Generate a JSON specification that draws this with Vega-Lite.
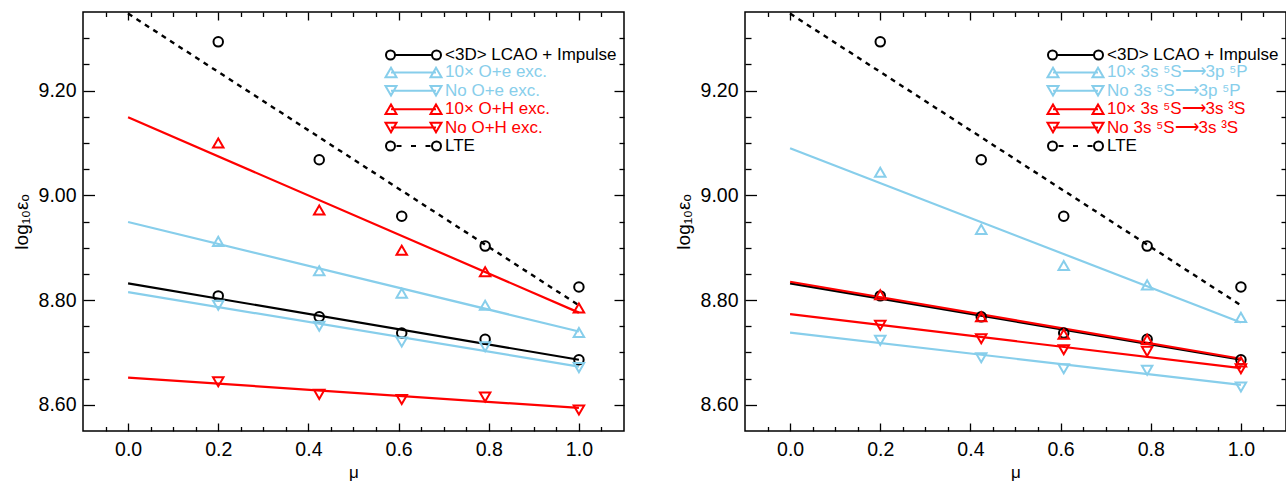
{
  "$schema": "https://vega.github.io/schema/vega-lite/v6.json",
  "padding": {"left": 11, "top": 10, "right": 0, "bottom": 0},
  "background": "white",
  "config": {
    "font": "Liberation Sans",
    "view": {"stroke": "black", "strokeWidth": 1.5},
    "axis": {"grid": false, "domain": false, "labelColor": "black", "titleColor": "black", "titleFontWeight": "normal", "tickColor": "black", "tickWidth": 1.3, "labelFont": "Liberation Sans", "titleFont": "Liberation Sans"},
    "legend": {"labelFont": "Liberation Sans"}
  },
  "datasets": {
    "fitsL": [
      {"series": "<3D> LCAO + Impulse", "mu": 0, "v": 8.832}, {"series": "<3D> LCAO + Impulse", "mu": 1, "v": 8.686},
      {"series": "10× O+e exc.", "mu": 0, "v": 8.949}, {"series": "10× O+e exc.", "mu": 1, "v": 8.740},
      {"series": "No O+e exc.", "mu": 0, "v": 8.815}, {"series": "No O+e exc.", "mu": 1, "v": 8.673},
      {"series": "10× O+H exc.", "mu": 0, "v": 9.149}, {"series": "10× O+H exc.", "mu": 1, "v": 8.776},
      {"series": "No O+H exc.", "mu": 0, "v": 8.652}, {"series": "No O+H exc.", "mu": 1, "v": 8.594},
      {"series": "LTE", "mu": 0, "v": 9.347}, {"series": "LTE", "mu": 1, "v": 8.790}
    ],
    "pointsL": [
      {"series": "LTE", "mu": 0.2, "v": 9.293}, {"series": "LTE", "mu": 0.424, "v": 9.068}, {"series": "LTE", "mu": 0.607, "v": 8.960}, {"series": "LTE", "mu": 0.792, "v": 8.903}, {"series": "LTE", "mu": 1.0, "v": 8.825},
      {"series": "<3D> LCAO + Impulse", "mu": 0.2, "v": 8.808}, {"series": "<3D> LCAO + Impulse", "mu": 0.424, "v": 8.768}, {"series": "<3D> LCAO + Impulse", "mu": 0.607, "v": 8.737}, {"series": "<3D> LCAO + Impulse", "mu": 0.792, "v": 8.725}, {"series": "<3D> LCAO + Impulse", "mu": 1.0, "v": 8.686},
      {"series": "10× O+e exc.", "mu": 0.2, "v": 8.912}, {"series": "10× O+e exc.", "mu": 0.424, "v": 8.856}, {"series": "10× O+e exc.", "mu": 0.607, "v": 8.813}, {"series": "10× O+e exc.", "mu": 0.792, "v": 8.790}, {"series": "10× O+e exc.", "mu": 1.0, "v": 8.738},
      {"series": "No O+e exc.", "mu": 0.2, "v": 8.790}, {"series": "No O+e exc.", "mu": 0.424, "v": 8.750}, {"series": "No O+e exc.", "mu": 0.607, "v": 8.720}, {"series": "No O+e exc.", "mu": 0.792, "v": 8.711}, {"series": "No O+e exc.", "mu": 1.0, "v": 8.671},
      {"series": "10× O+H exc.", "mu": 0.2, "v": 9.100}, {"series": "10× O+H exc.", "mu": 0.424, "v": 8.972}, {"series": "10× O+H exc.", "mu": 0.607, "v": 8.895}, {"series": "10× O+H exc.", "mu": 0.792, "v": 8.854}, {"series": "10× O+H exc.", "mu": 1.0, "v": 8.785},
      {"series": "No O+H exc.", "mu": 0.2, "v": 8.644}, {"series": "No O+H exc.", "mu": 0.424, "v": 8.620}, {"series": "No O+H exc.", "mu": 0.607, "v": 8.610}, {"series": "No O+H exc.", "mu": 0.792, "v": 8.615}, {"series": "No O+H exc.", "mu": 1.0, "v": 8.590}
    ],
    "fitsR": [
      {"series": "<3D> LCAO + Impulse", "mu": 0, "v": 8.832}, {"series": "<3D> LCAO + Impulse", "mu": 1, "v": 8.686},
      {"series": "10× 3s ⁵S⟶3p ⁵P", "mu": 0, "v": 9.090}, {"series": "10× 3s ⁵S⟶3p ⁵P", "mu": 1, "v": 8.757},
      {"series": "No 3s ⁵S⟶3p ⁵P", "mu": 0, "v": 8.738}, {"series": "No 3s ⁵S⟶3p ⁵P", "mu": 1, "v": 8.638},
      {"series": "10× 3s ⁵S⟶3s ³S", "mu": 0, "v": 8.835}, {"series": "10× 3s ⁵S⟶3s ³S", "mu": 1, "v": 8.688},
      {"series": "No 3s ⁵S⟶3s ³S", "mu": 0, "v": 8.773}, {"series": "No 3s ⁵S⟶3s ³S", "mu": 1, "v": 8.670},
      {"series": "LTE", "mu": 0, "v": 9.347}, {"series": "LTE", "mu": 1, "v": 8.790}
    ],
    "pointsR": [
      {"series": "LTE", "mu": 0.2, "v": 9.293}, {"series": "LTE", "mu": 0.424, "v": 9.068}, {"series": "LTE", "mu": 0.607, "v": 8.960}, {"series": "LTE", "mu": 0.792, "v": 8.903}, {"series": "LTE", "mu": 1.0, "v": 8.825},
      {"series": "<3D> LCAO + Impulse", "mu": 0.2, "v": 8.808}, {"series": "<3D> LCAO + Impulse", "mu": 0.424, "v": 8.768}, {"series": "<3D> LCAO + Impulse", "mu": 0.607, "v": 8.737}, {"series": "<3D> LCAO + Impulse", "mu": 0.792, "v": 8.725}, {"series": "<3D> LCAO + Impulse", "mu": 1.0, "v": 8.686},
      {"series": "10× 3s ⁵S⟶3p ⁵P", "mu": 0.2, "v": 9.044}, {"series": "10× 3s ⁵S⟶3p ⁵P", "mu": 0.424, "v": 8.935}, {"series": "10× 3s ⁵S⟶3p ⁵P", "mu": 0.607, "v": 8.866}, {"series": "10× 3s ⁵S⟶3p ⁵P", "mu": 0.792, "v": 8.829}, {"series": "10× 3s ⁵S⟶3p ⁵P", "mu": 1.0, "v": 8.767},
      {"series": "No 3s ⁵S⟶3p ⁵P", "mu": 0.2, "v": 8.723}, {"series": "No 3s ⁵S⟶3p ⁵P", "mu": 0.424, "v": 8.690}, {"series": "No 3s ⁵S⟶3p ⁵P", "mu": 0.607, "v": 8.669}, {"series": "No 3s ⁵S⟶3p ⁵P", "mu": 0.792, "v": 8.666}, {"series": "No 3s ⁵S⟶3p ⁵P", "mu": 1.0, "v": 8.634},
      {"series": "10× 3s ⁵S⟶3s ³S", "mu": 0.2, "v": 8.810}, {"series": "10× 3s ⁵S⟶3s ³S", "mu": 0.424, "v": 8.768}, {"series": "10× 3s ⁵S⟶3s ³S", "mu": 0.607, "v": 8.735}, {"series": "10× 3s ⁵S⟶3s ³S", "mu": 0.792, "v": 8.725}, {"series": "10× 3s ⁵S⟶3s ³S", "mu": 1.0, "v": 8.682},
      {"series": "No 3s ⁵S⟶3s ³S", "mu": 0.2, "v": 8.752}, {"series": "No 3s ⁵S⟶3s ³S", "mu": 0.424, "v": 8.726}, {"series": "No 3s ⁵S⟶3s ³S", "mu": 0.607, "v": 8.705}, {"series": "No 3s ⁵S⟶3s ³S", "mu": 0.792, "v": 8.702}, {"series": "No 3s ⁵S⟶3s ³S", "mu": 1.0, "v": 8.669}
    ]
  },
  "spacing": 47,
  "resolve": {"scale": {"color": "independent"}, "legend": {"color": "independent"}},
  "hconcat": [
    {
      "width": 541, "height": 419,
      "resolve": {"axis": {"x": "independent", "y": "independent"}},
      "layer": [
        {
          "data": {"name": "fitsL"},
          "transform": [{"filter": "datum.series != 'LTE'"}],
          "mark": {"type": "line", "strokeWidth": 2.2, "clip": true},
          "encoding": {
            "x": {"field": "mu", "type": "quantitative", "scale": {"domain": [-0.1, 1.1], "nice": false, "zero": false},
                  "axis": {"orient": "bottom", "ticks": false, "labelFontSize": 19.5, "labelPadding": 9, "format": ".1f", "values": [0, 0.2, 0.4, 0.6, 0.8, 1.0], "title": "μ", "titleFontSize": 17, "titlePadding": 6}},
            "y": {"field": "v", "type": "quantitative", "scale": {"domain": [8.55, 9.35], "nice": false, "zero": false},
                  "axis": {"orient": "left", "ticks": false, "labelFontSize": 19.5, "labelPadding": 7, "format": ".2f", "values": [8.6, 8.8, 9.0, 9.2], "title": "log₁₀εₒ", "titleFontSize": 19, "titlePadding": 7}},
            "color": {"field": "series", "type": "nominal",
                      "scale": {"domain": ["<3D> LCAO + Impulse", "10× O+e exc.", "No O+e exc.", "10× O+H exc.", "No O+H exc.", "LTE"], "range": ["#000000", "#87CEEB", "#87CEEB", "#FF0000", "#FF0000", "#000000"]},
                      "legend": {"orient": "none", "legendX": 322, "legendY": 34.5, "title": null, "labelFontSize": 17, "symbolSize": 100, "symbolStrokeWidth": 2, "labelOffset": 23, "rowPadding": -0.6, "padding": 0, "labelLimit": 400,
                        "encode": {
                          "symbols": {"update": {
                            "shape": {"signal": "datum.index == 0 ? 'M-3.7,0A0.9,0.9,0,1,0,-5.5,0A0.9,0.9,0,1,0,-3.7,0M5.5,0A0.9,0.9,0,1,0,3.7,0A0.9,0.9,0,1,0,5.5,0M-3.7,0L3.7,0' : (datum.index == 1 || datum.index == 3) ? 'M-5.6,0.95L-4.5,-0.95L-3.4,0.95ZM3.4,0.95L4.5,-0.95L5.6,0.95ZM-4.5,0L4.5,0' : (datum.index == 2 || datum.index == 4) ? 'M-5.6,-0.95L-4.5,0.95L-3.4,-0.95ZM3.4,-0.95L4.5,0.95L5.6,-0.95ZM-4.5,0L4.5,0' : 'M-3.7,0A0.9,0.9,0,1,0,-5.5,0A0.9,0.9,0,1,0,-3.7,0M5.5,0A0.9,0.9,0,1,0,3.7,0A0.9,0.9,0,1,0,5.5,0M-3.4,0L-2.4,0M-0.5,0L0.5,0M2.4,0L3.4,0'"},
                            "stroke": {"signal": "(datum.index == 1 || datum.index == 2) ? '#87CEEB' : (datum.index == 3 || datum.index == 4) ? '#FF0000' : '#000000'"},
                            "fill": {"value": "transparent"},
                            "strokeDash": {"value": []},
                            "opacity": {"value": 1}
                          }},
                          "labels": {"update": {
                            "fill": {"signal": "(datum.index == 1 || datum.index == 2) ? '#87CEEB' : (datum.index == 3 || datum.index == 4) ? '#FF0000' : '#000000'"}
                          }}
                        }}}
          }
        },
        {
          "data": {"name": "fitsL"},
          "transform": [{"filter": "datum.series == 'LTE'"}],
          "mark": {"type": "line", "strokeWidth": 2.4, "strokeDash": [5, 5], "clip": true},
          "encoding": {
            "x": {"field": "mu", "type": "quantitative", "axis": {"orient": "bottom", "labels": false, "title": null, "tickSize": -8, "values": [0, 0.2, 0.4, 0.6, 0.8, 1.0]}},
            "y": {"field": "v", "type": "quantitative", "axis": {"orient": "left", "labels": false, "title": null, "tickSize": -11.5, "values": [8.6, 8.8, 9.0, 9.2]}},
            "color": {"field": "series", "type": "nominal"}
          }
        },
        {
          "data": {"name": "pointsL"},
          "transform": [{"filter": "!test(/^10|^No/, datum.series)"}],
          "mark": {"type": "point", "shape": "circle", "filled": false, "size": 90, "strokeWidth": 2, "opacity": 1},
          "encoding": {
            "x": {"field": "mu", "type": "quantitative", "axis": {"orient": "bottom", "labels": false, "title": null, "tickSize": -4.5, "values": [-0.05, 0.05, 0.1, 0.15, 0.25, 0.3, 0.35, 0.45, 0.5, 0.55, 0.65, 0.7, 0.75, 0.85, 0.9, 0.95, 1.05]}},
            "y": {"field": "v", "type": "quantitative", "axis": {"orient": "left", "labels": false, "title": null, "tickSize": -6, "values": [8.65, 8.7, 8.75, 8.85, 8.9, 8.95, 9.05, 9.1, 9.15, 9.25, 9.3]}},
            "color": {"field": "series", "type": "nominal"}
          }
        },
        {
          "data": {"name": "pointsL"},
          "transform": [{"filter": "test(/^10/, datum.series)"}],
          "mark": {"type": "point", "shape": "triangle-up", "filled": false, "size": 110, "strokeWidth": 2, "opacity": 1},
          "encoding": {
            "x": {"field": "mu", "type": "quantitative", "axis": {"orient": "top", "labels": false, "title": null, "tickSize": -8, "values": [0, 0.2, 0.4, 0.6, 0.8, 1.0]}},
            "y": {"field": "v", "type": "quantitative", "axis": {"orient": "right", "labels": false, "title": null, "tickSize": -10, "values": [8.6, 8.8, 9.0, 9.2]}},
            "color": {"field": "series", "type": "nominal"}
          }
        },
        {
          "data": {"name": "pointsL"},
          "transform": [{"filter": "test(/^No/, datum.series)"}],
          "mark": {"type": "point", "shape": "triangle-down", "filled": false, "size": 110, "strokeWidth": 2, "opacity": 1},
          "encoding": {
            "x": {"field": "mu", "type": "quantitative", "axis": {"orient": "top", "labels": false, "title": null, "tickSize": -4.5, "values": [-0.05, 0.05, 0.1, 0.15, 0.25, 0.3, 0.35, 0.45, 0.5, 0.55, 0.65, 0.7, 0.75, 0.85, 0.9, 0.95, 1.05]}},
            "y": {"field": "v", "type": "quantitative", "axis": {"orient": "right", "labels": false, "title": null, "tickSize": -5, "values": [8.65, 8.7, 8.75, 8.85, 8.9, 8.95, 9.05, 9.1, 9.15, 9.25, 9.3]}},
            "color": {"field": "series", "type": "nominal"}
          }
        }
      ]
    },
    {
      "width": 541, "height": 419,
      "resolve": {"axis": {"x": "independent", "y": "independent"}},
      "layer": [
        {
          "data": {"name": "fitsR"},
          "transform": [{"filter": "datum.series != 'LTE'"}],
          "mark": {"type": "line", "strokeWidth": 2.2, "clip": true},
          "encoding": {
            "x": {"field": "mu", "type": "quantitative", "scale": {"domain": [-0.1, 1.1], "nice": false, "zero": false},
                  "axis": {"orient": "bottom", "ticks": false, "labelFontSize": 19.5, "labelPadding": 9, "format": ".1f", "values": [0, 0.2, 0.4, 0.6, 0.8, 1.0], "title": "μ", "titleFontSize": 17, "titlePadding": 6}},
            "y": {"field": "v", "type": "quantitative", "scale": {"domain": [8.55, 9.35], "nice": false, "zero": false},
                  "axis": {"orient": "left", "ticks": false, "labelFontSize": 19.5, "labelPadding": 7, "format": ".2f", "values": [8.6, 8.8, 9.0, 9.2], "title": "log₁₀εₒ", "titleFontSize": 19, "titlePadding": 7}},
            "color": {"field": "series", "type": "nominal",
                      "scale": {"domain": ["<3D> LCAO + Impulse", "10× 3s ⁵S⟶3p ⁵P", "No 3s ⁵S⟶3p ⁵P", "10× 3s ⁵S⟶3s ³S", "No 3s ⁵S⟶3s ³S", "LTE"], "range": ["#000000", "#87CEEB", "#87CEEB", "#FF0000", "#FF0000", "#000000"]},
                      "legend": {"orient": "none", "legendX": 322, "legendY": 34.5, "title": null, "labelFontSize": 17, "symbolSize": 100, "symbolStrokeWidth": 2, "labelOffset": 23, "rowPadding": -0.6, "padding": 0, "labelLimit": 400,
                        "encode": {
                          "symbols": {"update": {
                            "shape": {"signal": "datum.index == 0 ? 'M-3.7,0A0.9,0.9,0,1,0,-5.5,0A0.9,0.9,0,1,0,-3.7,0M5.5,0A0.9,0.9,0,1,0,3.7,0A0.9,0.9,0,1,0,5.5,0M-3.7,0L3.7,0' : (datum.index == 1 || datum.index == 3) ? 'M-5.6,0.95L-4.5,-0.95L-3.4,0.95ZM3.4,0.95L4.5,-0.95L5.6,0.95ZM-4.5,0L4.5,0' : (datum.index == 2 || datum.index == 4) ? 'M-5.6,-0.95L-4.5,0.95L-3.4,-0.95ZM3.4,-0.95L4.5,0.95L5.6,-0.95ZM-4.5,0L4.5,0' : 'M-3.7,0A0.9,0.9,0,1,0,-5.5,0A0.9,0.9,0,1,0,-3.7,0M5.5,0A0.9,0.9,0,1,0,3.7,0A0.9,0.9,0,1,0,5.5,0M-3.4,0L-2.4,0M-0.5,0L0.5,0M2.4,0L3.4,0'"},
                            "stroke": {"signal": "(datum.index == 1 || datum.index == 2) ? '#87CEEB' : (datum.index == 3 || datum.index == 4) ? '#FF0000' : '#000000'"},
                            "fill": {"value": "transparent"},
                            "strokeDash": {"value": []},
                            "opacity": {"value": 1}
                          }},
                          "labels": {"update": {
                            "fill": {"signal": "(datum.index == 1 || datum.index == 2) ? '#87CEEB' : (datum.index == 3 || datum.index == 4) ? '#FF0000' : '#000000'"}
                          }}
                        }}}
          }
        },
        {
          "data": {"name": "fitsR"},
          "transform": [{"filter": "datum.series == 'LTE'"}],
          "mark": {"type": "line", "strokeWidth": 2.4, "strokeDash": [5, 5], "clip": true},
          "encoding": {
            "x": {"field": "mu", "type": "quantitative", "axis": {"orient": "bottom", "labels": false, "title": null, "tickSize": -8, "values": [0, 0.2, 0.4, 0.6, 0.8, 1.0]}},
            "y": {"field": "v", "type": "quantitative", "axis": {"orient": "left", "labels": false, "title": null, "tickSize": -11.5, "values": [8.6, 8.8, 9.0, 9.2]}},
            "color": {"field": "series", "type": "nominal"}
          }
        },
        {
          "data": {"name": "pointsR"},
          "transform": [{"filter": "!test(/^10|^No/, datum.series)"}],
          "mark": {"type": "point", "shape": "circle", "filled": false, "size": 90, "strokeWidth": 2, "opacity": 1},
          "encoding": {
            "x": {"field": "mu", "type": "quantitative", "axis": {"orient": "bottom", "labels": false, "title": null, "tickSize": -4.5, "values": [-0.05, 0.05, 0.1, 0.15, 0.25, 0.3, 0.35, 0.45, 0.5, 0.55, 0.65, 0.7, 0.75, 0.85, 0.9, 0.95, 1.05]}},
            "y": {"field": "v", "type": "quantitative", "axis": {"orient": "left", "labels": false, "title": null, "tickSize": -6, "values": [8.65, 8.7, 8.75, 8.85, 8.9, 8.95, 9.05, 9.1, 9.15, 9.25, 9.3]}},
            "color": {"field": "series", "type": "nominal"}
          }
        },
        {
          "data": {"name": "pointsR"},
          "transform": [{"filter": "test(/^10/, datum.series)"}],
          "mark": {"type": "point", "shape": "triangle-up", "filled": false, "size": 110, "strokeWidth": 2, "opacity": 1},
          "encoding": {
            "x": {"field": "mu", "type": "quantitative", "axis": {"orient": "top", "labels": false, "title": null, "tickSize": -8, "values": [0, 0.2, 0.4, 0.6, 0.8, 1.0]}},
            "y": {"field": "v", "type": "quantitative", "axis": {"orient": "right", "labels": false, "title": null, "tickSize": -10, "values": [8.6, 8.8, 9.0, 9.2]}},
            "color": {"field": "series", "type": "nominal"}
          }
        },
        {
          "data": {"name": "pointsR"},
          "transform": [{"filter": "test(/^No/, datum.series)"}],
          "mark": {"type": "point", "shape": "triangle-down", "filled": false, "size": 110, "strokeWidth": 2, "opacity": 1},
          "encoding": {
            "x": {"field": "mu", "type": "quantitative", "axis": {"orient": "top", "labels": false, "title": null, "tickSize": -4.5, "values": [-0.05, 0.05, 0.1, 0.15, 0.25, 0.3, 0.35, 0.45, 0.5, 0.55, 0.65, 0.7, 0.75, 0.85, 0.9, 0.95, 1.05]}},
            "y": {"field": "v", "type": "quantitative", "axis": {"orient": "right", "labels": false, "title": null, "tickSize": -5, "values": [8.65, 8.7, 8.75, 8.85, 8.9, 8.95, 9.05, 9.1, 9.15, 9.25, 9.3]}},
            "color": {"field": "series", "type": "nominal"}
          }
        }
      ]
    }
  ]
}
